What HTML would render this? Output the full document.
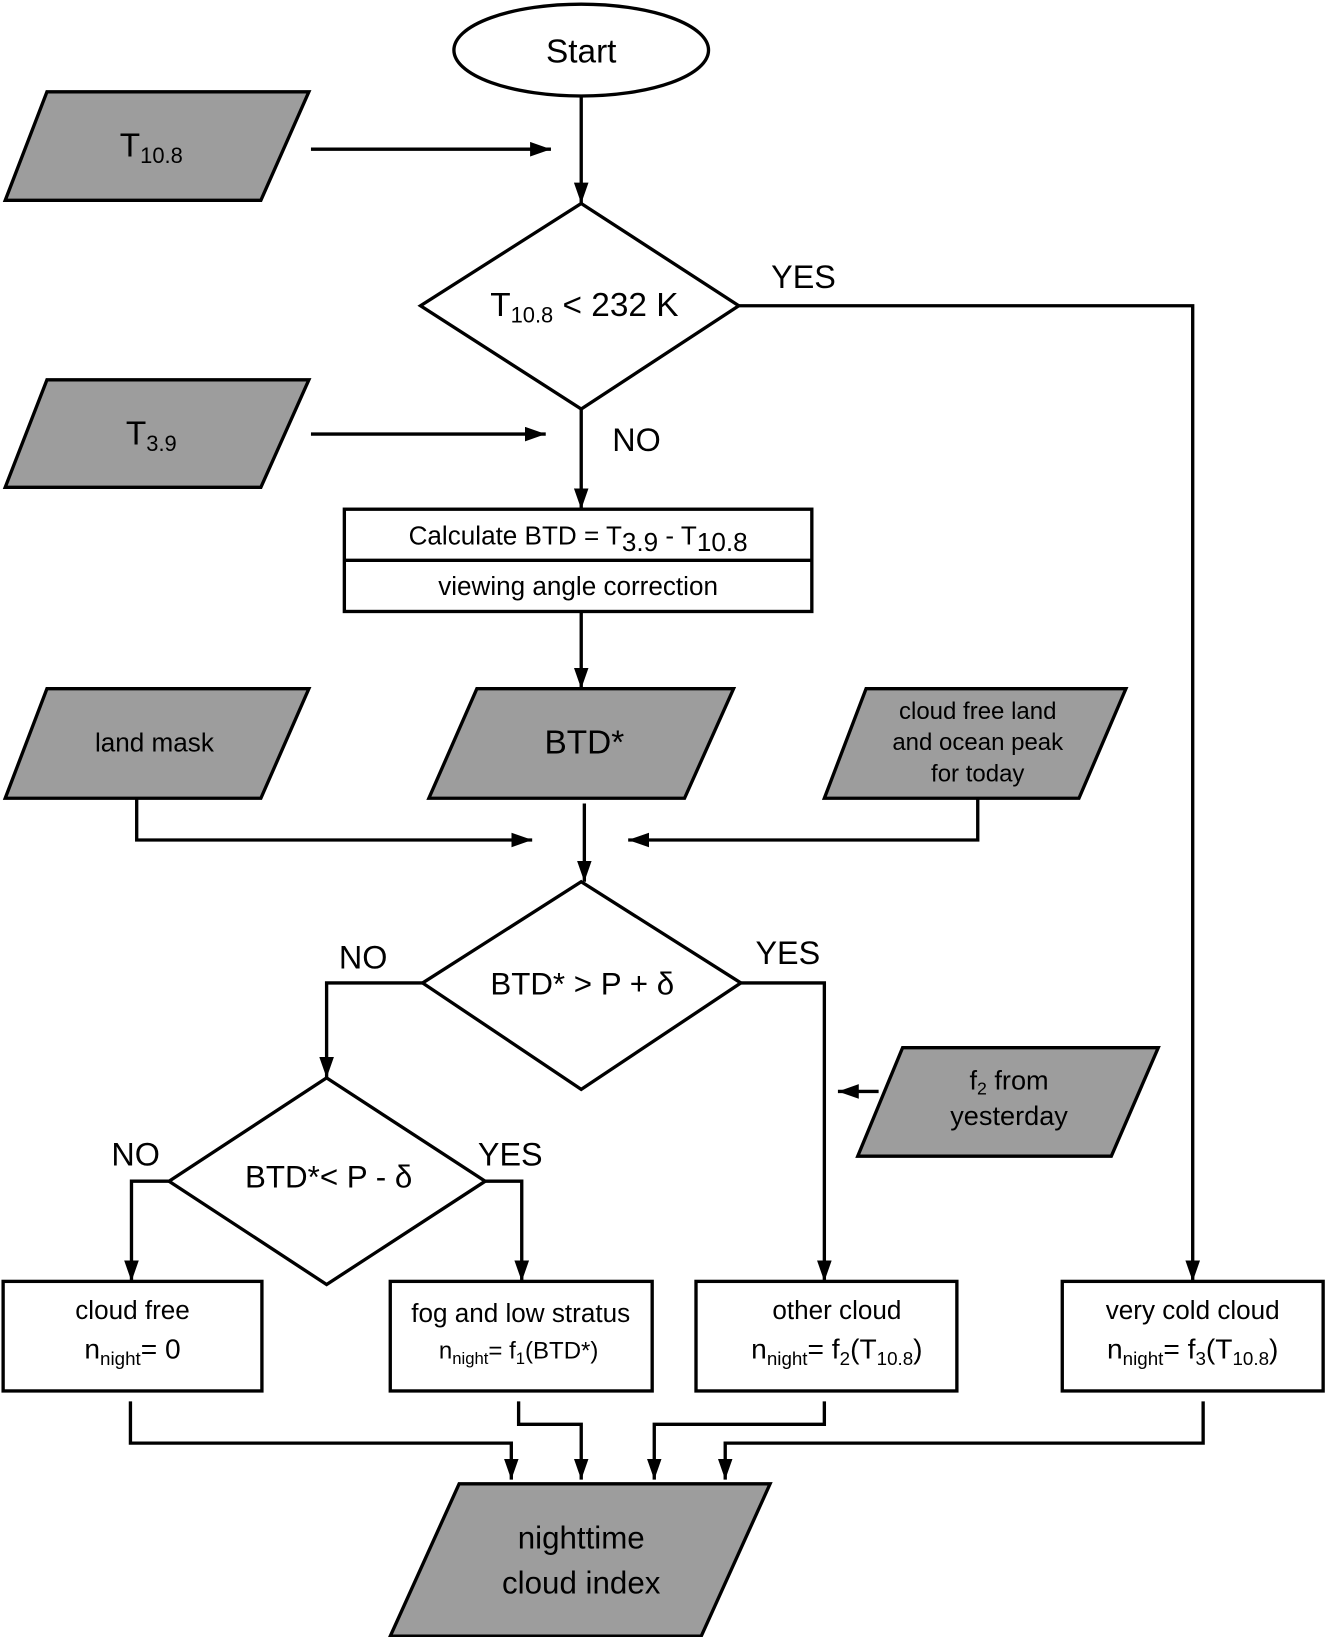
<!DOCTYPE html>
<html><head><meta charset="utf-8"><style>html,body{margin:0;padding:0;background:#fff}svg{display:block}</style></head><body>
<svg width="1327" height="1637" viewBox="0 0 1271.7 1568.8" preserveAspectRatio="none" xmlns="http://www.w3.org/2000/svg" font-family="Liberation Sans, sans-serif" text-anchor="middle">
<defs>
<marker id="b" viewBox="0 0 20 14" refX="20" refY="7" markerWidth="20" markerHeight="14" orient="auto" markerUnits="userSpaceOnUse"><path d="M0,0 L20,7 L0,14 z" fill="#000"/></marker></defs>
<g fill="none" stroke="#000" stroke-width="3.2">
<ellipse cx="557" cy="48" rx="122" ry="44" fill="#fff"/>
<g fill="#9d9d9d">
<polygon points="45,88 296,88 250,192 5,192"/>
<polygon points="45,364 296,364 250,467 5,467"/>
<polygon points="45,660 296,660 250,765 5,765"/>
<polygon points="457,660 703,660 656,765 411,765"/>
<polygon points="830,660 1079,660 1034,765 790,765"/>
<polygon points="865,1004 1110,1004 1065,1108 822,1108"/>
<polygon points="440,1422 738,1422 672,1568 374,1568"/>
</g>
<g fill="#fff">
<polygon points="557,195 708,293 557,392 403,293"/>
<polygon points="557,845 710,942 557,1044 405,942"/>
<polygon points="313,1033 465,1132 313,1231 162,1132"/>
<rect x="330" y="488" width="448" height="98"/>
<rect x="3" y="1228" width="248" height="105"/>
<rect x="374" y="1228" width="251" height="105"/>
<rect x="667" y="1228" width="250" height="105"/>
<rect x="1018" y="1228" width="250" height="105"/>
</g>
<line x1="330" y1="537" x2="778" y2="537"/>
<g marker-end="url(#b)">
<line x1="298" y1="143" x2="528" y2="143"/>
<line x1="557" y1="92" x2="557" y2="195"/>
<polyline points="708,293 1143,293 1143,1228"/>
<line x1="298" y1="416" x2="523" y2="416"/>
<line x1="557" y1="392" x2="557" y2="488"/>
<line x1="557" y1="586" x2="557" y2="660"/>
<polyline points="131,765 131,805 510,805"/>
<polyline points="937,765 937,805 602,805"/>
<line x1="560" y1="770" x2="560" y2="845"/>
<polyline points="405,942 313,942 313,1033"/>
<polyline points="710,942 790,942 790,1228"/>
<line x1="842" y1="1046" x2="803" y2="1046"/>
<polyline points="162,1132 126,1132 126,1228"/>
<polyline points="465,1132 500,1132 500,1228"/>
<polyline points="125,1343 125,1383 490,1383 490,1418"/>
<polyline points="497,1343 497,1365 557,1365 557,1418"/>
<polyline points="790,1343 790,1365 627,1365 627,1418"/>
<polyline points="1153,1343 1153,1383 695,1383 695,1418"/>
</g>
</g>
<g fill="#000">
<text x="557" y="60" font-size="32">Start</text>
<text x="145" y="150" font-size="32">T<tspan font-size="21" dy="6">10.8</tspan></text>
<text x="145" y="426" font-size="32">T<tspan font-size="21" dy="6">3.9</tspan></text>
<text x="560" y="303" font-size="32">T<tspan font-size="21" dy="6">10.8</tspan><tspan dy="-6"> &lt; 232 K</tspan></text>
<text x="770" y="276" font-size="31">YES</text>
<text x="610" y="432" font-size="31">NO</text>
<text x="554" y="522" font-size="25">Calculate BTD = T<tspan dy="6">3.9</tspan><tspan dy="-6"> - T</tspan><tspan dy="6">10.8</tspan></text>
<text x="554" y="570" font-size="25">viewing angle correction</text>
<text x="148" y="720" font-size="25">land mask</text>
<text x="560" y="722" font-size="32">BTD*</text>
<text x="937" y="689" font-size="23">cloud free land</text>
<text x="937" y="719" font-size="23">and ocean peak</text>
<text x="937" y="749" font-size="23">for today</text>
<text x="558" y="953" font-size="30">BTD* &gt; P + δ</text>
<text x="348" y="928" font-size="31">NO</text>
<text x="755" y="924" font-size="31">YES</text>
<text x="967" y="1044" font-size="26">f<tspan font-size="17" dy="5">2</tspan><tspan dy="-5"> from</tspan></text>
<text x="967" y="1078" font-size="26">yesterday</text>
<text x="315" y="1138" font-size="30">BTD*&lt; P - δ</text>
<text x="130" y="1117" font-size="31">NO</text>
<text x="489" y="1117" font-size="31">YES</text>
<text x="127" y="1264" font-size="25">cloud free</text>
<text x="127" y="1302" font-size="27">n<tspan font-size="18" dy="6">night</tspan><tspan dy="-6">= 0</tspan></text>
<text x="499" y="1267" font-size="25">fog and low stratus</text>
<text x="497" y="1302" font-size="23">n<tspan font-size="16" dy="5">night</tspan><tspan dy="-5">= f</tspan><tspan font-size="16" dy="5">1</tspan><tspan dy="-5">(BTD*)</tspan></text>
<text x="802" y="1264" font-size="25">other cloud</text>
<text x="802" y="1302" font-size="27">n<tspan font-size="18" dy="6">night</tspan><tspan dy="-6">= f</tspan><tspan font-size="18" dy="6">2</tspan><tspan dy="-6">(T</tspan><tspan font-size="18" dy="6">10.8</tspan><tspan dy="-6">)</tspan></text>
<text x="1143" y="1264" font-size="25">very cold cloud</text>
<text x="1143" y="1302" font-size="27">n<tspan font-size="18" dy="6">night</tspan><tspan dy="-6">= f</tspan><tspan font-size="18" dy="6">3</tspan><tspan dy="-6">(T</tspan><tspan font-size="18" dy="6">10.8</tspan><tspan dy="-6">)</tspan></text>
<text x="557" y="1484" font-size="30">nighttime</text>
<text x="557" y="1527" font-size="30">cloud index</text>
</g>
</svg>
</body></html>
